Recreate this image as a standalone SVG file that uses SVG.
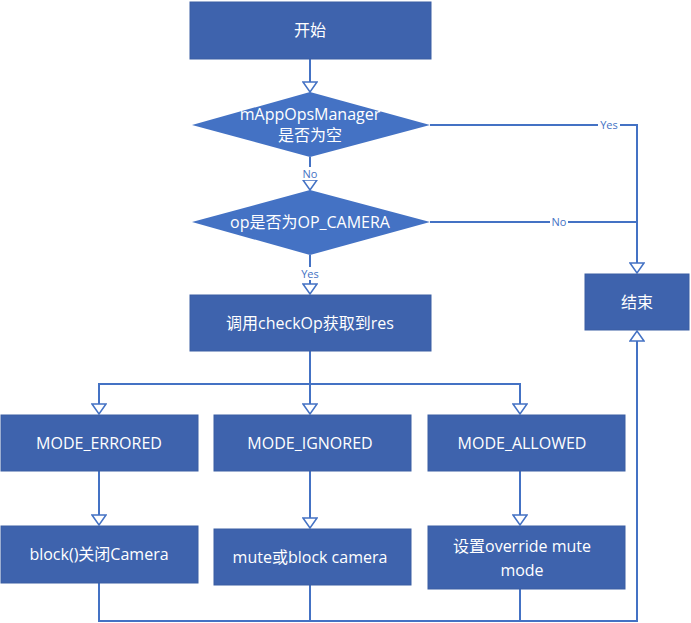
<svg xmlns="http://www.w3.org/2000/svg" width="691" height="623" viewBox="0 0 691 623">
<style>
.b{fill:#3e63ad;stroke:#3a5ea3;stroke-width:1}
.d{fill:#4472c4}
.t{fill:#fff;font-family:"Open Sans","Noto Sans CJK SC",sans-serif;font-size:16px;text-anchor:middle}
.c{fill:none;stroke:#4472c4;stroke-width:2}
.l{fill:#4472c4;font-family:"Open Sans",sans-serif;font-size:11px;text-anchor:middle}
.lb{fill:#fff}
</style>
<defs><marker id="a" markerWidth="12" markerHeight="16" refX="11" refY="8" orient="auto" markerUnits="userSpaceOnUse"><path d="M1,1 L11,8 L1,15 Z" fill="#fff" stroke="#4472c4" stroke-width="1.5"/></marker></defs>
<g id="connectors">
<path class="c" d="M310,59 V92" marker-end="url(#a)"/>
<path class="c" d="M310,157 V190" marker-end="url(#a)"/>
<path class="c" d="M310,255 V294" marker-end="url(#a)"/>
<path class="c" d="M430,125 H637 V273" marker-end="url(#a)"/>
<path class="c" d="M430,222 H637"/>
<path class="c" d="M310,351 V414" marker-end="url(#a)"/>
<path class="c" d="M99,414 V384 H520 V414" marker-end="url(#a)"/>
<path class="c" d="M99,384 V414" marker-end="url(#a)"/>
<path class="c" d="M99,471 V525" marker-end="url(#a)"/>
<path class="c" d="M310,471 V528" marker-end="url(#a)"/>
<path class="c" d="M520,471 V525" marker-end="url(#a)"/>
<path class="c" d="M99,583 V621 H637 V331" marker-end="url(#a)"/>
<path class="c" d="M310,585 V621 M520,589 V621"/>
<rect class="lb" x="598" y="118" width="22" height="13"/><text class="l" x="609" y="129">Yes</text>
<rect class="lb" x="550" y="215" width="18" height="13"/><text class="l" x="559" y="226">No</text>
<rect class="lb" x="300" y="167" width="20" height="13"/><text class="l" x="310" y="178">No</text>
<rect class="lb" x="298" y="267" width="24" height="13"/><text class="l" x="310" y="278">Yes</text>
</g>
<g id="start"><rect class="b" x="190" y="2" width="241" height="57"/><text class="t" x="310" y="36">开始</text></g>
<g id="d1"><path class="d" d="M192,125 L310,92 L430,125 L310,157 Z"/><text class="t" x="310" y="120" font-size="15">mAppOpsManager</text><text class="t" x="310" y="141" font-size="15">是否为空</text></g>
<g id="d2"><path class="d" d="M192,222 L310,190 L430,222 L310,255 Z"/><text class="t" x="310" y="228" font-size="15">op是否为OP_CAMERA</text></g>
<g id="check"><rect class="b" x="190" y="295" width="241" height="56"/><text class="t" x="310" y="329">调用checkOp获取到res</text></g>
<g id="end"><rect class="b" x="585" y="274" width="104" height="56"/><text class="t" x="637" y="308">结束</text></g>
<g id="m1"><rect class="b" x="1" y="415" width="197" height="56"/><text class="t" x="99" y="449">MODE_ERRORED</text></g>
<g id="m2"><rect class="b" x="214" y="415" width="197" height="56"/><text class="t" x="310" y="449">MODE_IGNORED</text></g>
<g id="m3"><rect class="b" x="428" y="415" width="197" height="56"/><text class="t" x="522" y="449">MODE_ALLOWED</text></g>
<g id="b1"><rect class="b" x="1" y="526" width="197" height="57"/><text class="t" x="99" y="560">block()关闭Camera</text></g>
<g id="b2"><rect class="b" x="214" y="529" width="197" height="56"/><text class="t" x="310" y="563">mute或block camera</text></g>
<g id="b3"><rect class="b" x="428" y="526" width="197" height="63"/><text class="t" x="522" y="552">设置override mute</text><text class="t" x="522" y="576">mode</text></g>
</svg>
